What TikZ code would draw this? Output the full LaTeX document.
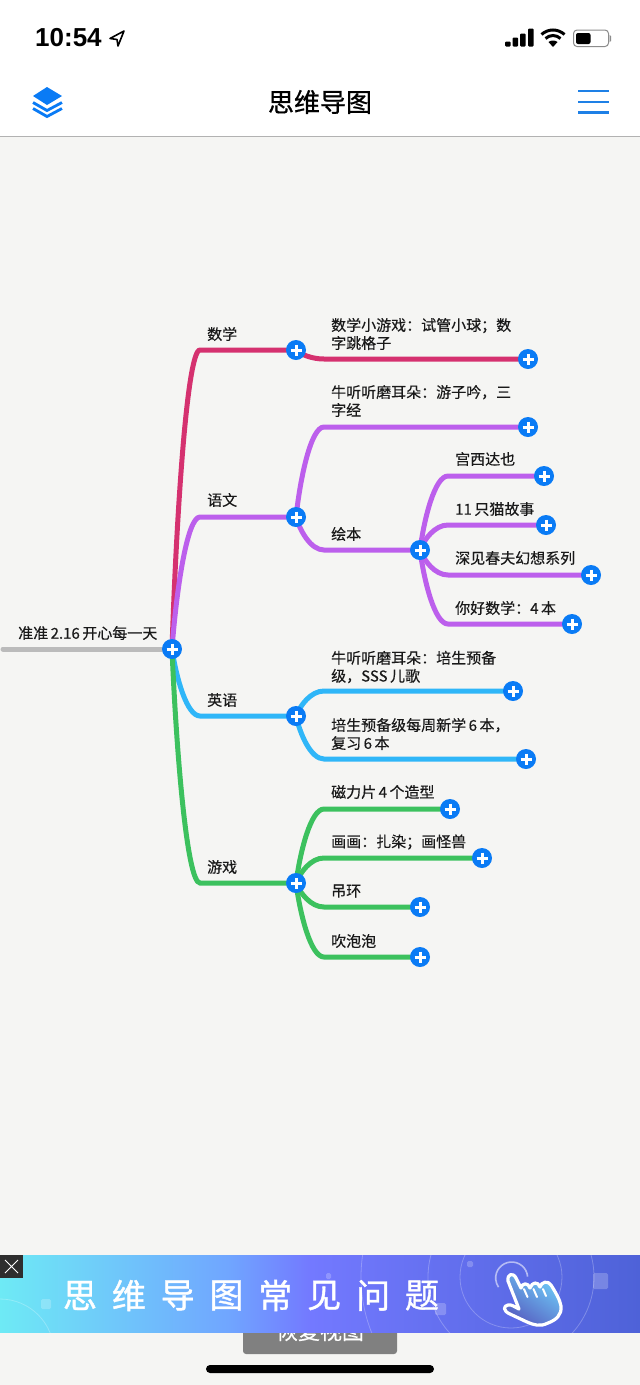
\documentclass[tikz,border=0pt]{standalone}
\usepackage{fontspec}
\setmainfont{Noto Sans CJK SC}[FakeBold=0.35]
\newfontfamily\adfont{Noto Sans CJK SC}[FakeBold=1.1]
\newfontfamily\titlefont{Noto Sans CJK SC}[FakeBold=0.9]
\newfontfamily\numfont{Liberation Sans}
\usetikzlibrary{calc,backgrounds}
\definecolor{pagebg}{HTML}{F5F5F3}
\definecolor{btnblue}{HTML}{0A7BF5}
\definecolor{navblue}{HTML}{1E80E6}
\definecolor{rootgrey}{HTML}{BBBBBB}
\definecolor{mathred}{HTML}{D5316F}
\definecolor{chnpurple}{HTML}{BC5FEC}
\definecolor{engblue}{HTML}{2FB6F8}
\definecolor{gamegreen}{HTML}{3CC15E}
\definecolor{adcyan}{HTML}{6EEAF5}
\definecolor{adsky}{HTML}{70A5FF}
\definecolor{adviolet}{HTML}{7379FF}
\definecolor{adindigo}{HTML}{4E62D8}
\tikzset{
  plusbtn/.style={circle,fill=btnblue,minimum size=20pt,inner sep=0pt,
    path picture={\draw[white,line width=3pt]
      ($(path picture bounding box.center)+(-5.5,0)$)--($(path picture bounding box.center)+(5.5,0)$)
      ($(path picture bounding box.center)+(0,-5.5)$)--($(path picture bounding box.center)+(0,5.5)$);}},
  topic/.style={anchor=west,inner sep=0pt,yshift=-1pt,font=\fontsize{15}{18}\selectfont,align=left,text=black!90},
  bough/.style={line width=5pt,line cap=round},
}
% curved branch: leaves node #2, runs flat into node #3
\newcommand{\boughline}[4][28]{\draw[bough,#2] let \p1=(#3), \p2=(#4) in
  (\p1) .. controls ({\x1+0.15*#1},{\y1+0.43*(\y2-\y1)}) and ({\x1+0.53*#1},\y2) .. ({\x1+#1},\y2) -- (\p2);}
\begin{document}
\begin{tikzpicture}[x=1pt,y=-1pt]
\useasboundingbox (0,0) rectangle (640,1385);
\begin{scope}[on background layer]
\fill[pagebg] (0,0) rectangle (640,1385);
\fill[white] (0,0) rectangle (640,136);
\draw[black!30,line width=1pt] (0,136.5)--(640,136.5);
\end{scope}
% buttons
\node[plusbtn] (root) at (172,649) {};
\node[plusbtn] (shuxue) at (296,350) {};
\node[plusbtn] (yuwen) at (296,517) {};
\node[plusbtn] (yingyu) at (296,716) {};
\node[plusbtn] (youxi) at (296,883) {};
\node[plusbtn] (shuxueA) at (528,359) {};
\node[plusbtn] (yuwenA) at (528,427) {};
\node[plusbtn] (huiben) at (420,550) {};
\node[plusbtn] (huibenA) at (544,476) {};
\node[plusbtn] (huibenB) at (546,525) {};
\node[plusbtn] (huibenC) at (591,575) {};
\node[plusbtn] (huibenD) at (572,624) {};
\node[plusbtn] (yingyuA) at (513,691) {};
\node[plusbtn] (yingyuB) at (526,759) {};
\node[plusbtn] (youxiA) at (450,809) {};
\node[plusbtn] (youxiB) at (482,858) {};
\node[plusbtn] (youxiC) at (420,907) {};
\node[plusbtn] (youxiD) at (420,957) {};
\node[circle,inner sep=0pt] (rootstart) at (3,649) {};
% connectors
\begin{scope}[on background layer]
\draw[bough,rootgrey] (rootstart.center)--(root);
\boughline{mathred}{root}{shuxue}
\boughline{chnpurple}{root}{yuwen}
\boughline{engblue}{root}{yingyu}
\boughline{gamegreen}{root}{youxi}
\boughline{mathred}{shuxue}{shuxueA}
\boughline{chnpurple}{yuwen}{yuwenA}
\boughline{chnpurple}{yuwen}{huiben}
\boughline{chnpurple}{huiben}{huibenA}
\boughline{chnpurple}{huiben}{huibenB}
\boughline{chnpurple}{huiben}{huibenC}
\boughline{chnpurple}{huiben}{huibenD}
\boughline{engblue}{yingyu}{yingyuA}
\boughline{engblue}{yingyu}{yingyuB}
\boughline{gamegreen}{youxi}{youxiA}
\boughline{gamegreen}{youxi}{youxiB}
\boughline{gamegreen}{youxi}{youxiC}
\boughline{gamegreen}{youxi}{youxiD}
\end{scope}
% labels
\node[topic] (roottext) at (18,632) {准准\,2.16\,开心每一天};
\node[topic] (t1) at (207,333) {数学};
\node[topic] (t2) at (207,499) {语文};
\node[topic] (t3) at (207,699) {英语};
\node[topic] (t4) at (207,866) {游戏};
\node[topic] (t1a) at (331,333) {数学小游戏：试管小球；数\\字跳格子};
\node[topic] (t2a) at (331,400) {牛听听磨耳朵：游子吟，三\\字经};
\node[topic] (t2b) at (331,533) {绘本};
\node[topic] (hb1) at (455,458) {宫西达也};
\node[topic] (hb2) at (455,508) {11\,只猫故事};
\node[topic] (hb3) at (455,557) {深见春夫幻想系列};
\node[topic] (hb4) at (455,607) {你好数学：4\,本};
\node[topic] (t3a) at (331,666) {牛听听磨耳朵：培生预备\\级，SSS\,儿歌};
\node[topic] (t3b) at (331,733) {培生预备级每周新学\,6\,本，\\复习\,6\,本};
\node[topic] (t4a) at (331,791) {磁力片\,4\,个造型};
\node[topic] (t4b) at (331,841) {画画：扎染；画怪兽};
\node[topic] (t4c) at (331,890) {吊环};
\node[topic] (t4d) at (331,940) {吹泡泡};
% status bar
\node[anchor=west,inner sep=0pt,font=\numfont\bfseries\fontsize{26}{26}\selectfont] (clock) at (35,38) {10:54};
\draw[black,line width=1.6pt,line join=round] (124,31)--(110,38.5)--(117,39.5)--(118,46)--cycle;
\foreach \x/\h in {505/5,512.5/9,520/13,528/18}
  \fill[black,rounded corners=1pt] (\x,46.5) rectangle ++(5.5,-\h);
\fill[black] (553,47)--(548.5,42)..controls (551,40) and (555,40) .. (557.5,42)--cycle;
\draw[black,line width=3pt] (545.5,38.5)..controls (550,34.5) and (556,34.5) .. (560.5,38.5);
\draw[black,line width=3pt] (541.5,34.5)..controls (548,28.5) and (558,28.5) .. (564.5,34.5);
\draw[black!45,line width=1pt,rounded corners=3.5pt] (573.5,30)rectangle(608.5,46.5);
\fill[black,rounded corners=2pt] (576,33) rectangle (590.5,44);
\fill[black!45] (609.5,35)--(611,36)--(611,41)--(609.5,42)--cycle;
% navigation bar
\node[font=\titlefont\fontsize{26}{26}\selectfont] (title) at (320,102) {思维导图};
\fill[btnblue] (47,87)--(62,96)--(47,105)--(33,96)--cycle;
\draw[btnblue,line width=2.8pt] (33,102.5)--(47,110.5)--(62,102.5) (33,108.5)--(47,116.5)--(62,108.5);
\foreach \y in {91,102,112.5}
  \draw[navblue,line width=2.2pt] (578,\y)--(609,\y);
% button behind the banner
\fill[black!50,rounded corners=3pt] (243,1320) rectangle (397,1354);
\node[text=white,font=\fontsize{22}{22}\selectfont] (restore) at (320,1331) {恢复视图};
\fill[black,rounded corners=4pt] (206,1365) rectangle (434,1373);
% banner
\begin{scope}
\clip (0,1255) rectangle (640,1332);
\fill[left color=adcyan,right color=adsky] (0,1255) rectangle (230,1332);
\fill[left color=adsky,right color=adviolet] (230,1255) rectangle (310,1332);
\fill[left color=adviolet,right color=adindigo] (310,1255) rectangle (640,1332);
\draw[white,opacity=.25,line width=.8pt] (511,1277) circle (51) (511,1277) circle (83) (511,1277) circle (150) (0,1353) circle (54);
\foreach \xa/\ya/\xb/\yb in {41/1299/51/1309,326/1273/331/1279,435/1303/446/1315,593/1273/608/1289,467/1261/473/1267}
  \fill[white,opacity=.22,rounded corners=1.5pt] (\xa,\ya) rectangle (\xb,\yb);
\end{scope}
\fill[black!82] (0,1255) rectangle (23,1278);
\draw[white,line width=1pt] (5,1260)--(18,1273) (18,1260)--(5,1273);
\foreach \c [count=\i] in {思,维,导,图,常,见,问,题}
  \node[text=white,font=\adfont\fontsize{34}{34}\selectfont] (ad\i) at (80+48.85*\i-48.85,1295.5) {\c};
% pointing hand
\draw[white,opacity=.55,line width=1.6pt] (527.6,1276.6) arc (-5:-215:16);
\draw[white,line width=3.2pt,line join=round,left color=adcyan!60!adsky,middle color=adsky,right color=adviolet!75!black,shading angle=-35]
 (508,1281)..controls (507,1274) and (513,1272) .. (516,1278)--(521,1288)
 ..controls (522,1283) and (528,1282) .. (530,1288)
 ..controls (532,1282) and (538,1281) .. (540,1287)
 ..controls (541,1282) and (548,1280) .. (551,1285)
 ..controls (556,1293) and (560,1300) .. (561,1306)
 ..controls (562,1315) and (556,1320) .. (548,1323)
 ..controls (540,1327) and (534,1325) .. (527,1322)
 --(510,1314)
 ..controls (503,1311) and (503,1306) .. (508,1305)
 ..controls (511,1304) and (515,1307) .. (519,1309)--cycle;
\draw[white,line width=2pt,line cap=round] (524,1289)--(527.5,1297) (533.5,1289)--(537,1297) (543,1289)--(546,1296);
\end{tikzpicture}
\end{document}
